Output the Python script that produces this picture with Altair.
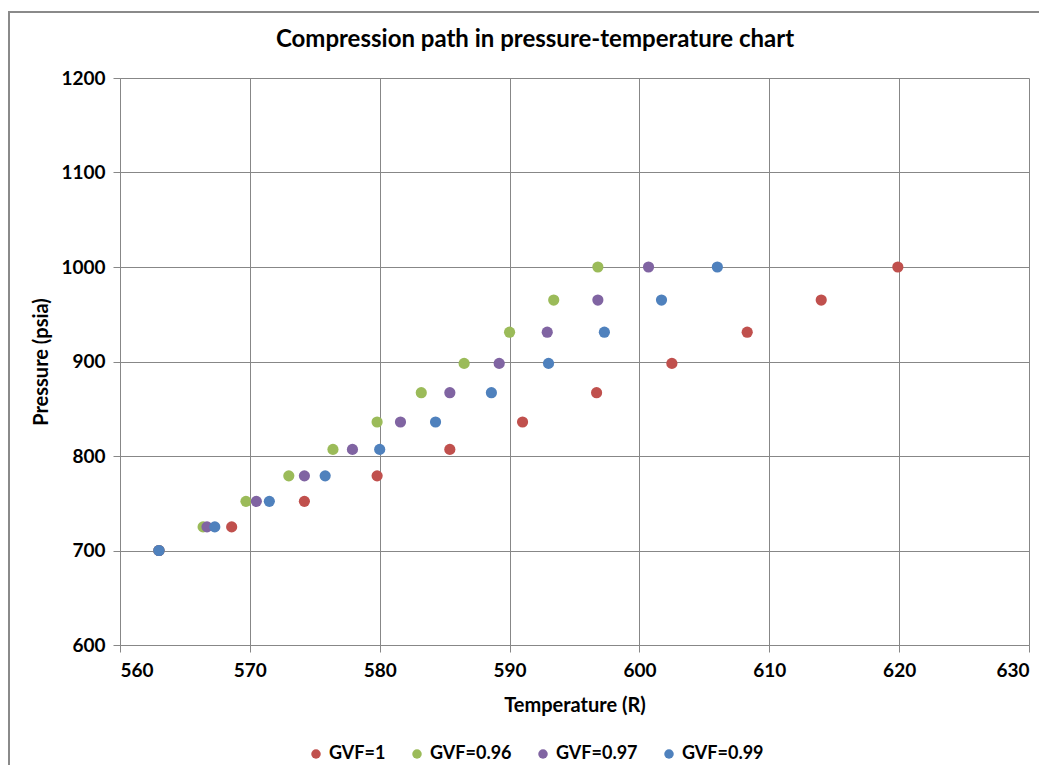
import altair as alt
import pandas as pd

series = ["GVF=1", "GVF=0.96", "GVF=0.97", "GVF=0.99"]
colors = ["#C0504D", "#9BBB59", "#8064A2", "#4F81BD"]
title_text = "Compression path in pressure-temperature chart"

pressure = [700, 725, 752, 779, 807, 836, 867, 898, 931, 965, 1000]
temp_gvf1 = [563.0, 568.6, 574.2, 579.8, 585.4, 591.0, 596.7, 602.5, 608.3, 614.0, 619.9]
temp_gvf096 = [563.0, 566.4, 569.7, 573.0, 576.4, 579.8, 583.2, 586.5, 590.0, 593.4, 596.8]
temp_gvf097 = [563.0, 566.7, 570.5, 574.2, 577.9, 581.6, 585.4, 589.2, 592.9, 596.8, 600.7]
temp_gvf099 = [563.0, 567.3, 571.5, 575.8, 580.0, 584.3, 588.6, 593.0, 597.3, 601.7, 606.0]

rows = []
for name, temps in zip(series, [temp_gvf1, temp_gvf096, temp_gvf097, temp_gvf099]):
    for t, p in zip(temps, pressure):
        rows.append({"series": name, "T": t, "P": p})
df = pd.DataFrame(rows)
df["order"] = df["series"].map({s: i for i, s in enumerate(series)})

FONT = "Lato"

points = alt.Chart(df).mark_circle(size=125, opacity=1).encode(
    x=alt.X("T:Q", title="Temperature (R)",
            scale=alt.Scale(domain=[560, 630], nice=False),
            axis=alt.Axis(values=list(range(560, 631, 10)), format="d",
                          labelPadding=9, titlePadding=15)),
    y=alt.Y("P:Q", title="Pressure (psia)",
            scale=alt.Scale(domain=[600, 1200], nice=False),
            axis=alt.Axis(values=list(range(600, 1201, 100)), format="d",
                          labelPadding=8, titlePadding=9)),
    color=alt.Color("series:N", scale=alt.Scale(domain=series, range=colors),
                    legend=alt.Legend(title=None, orient="none", direction="horizontal",
                                      legendX=187, legendY=100 + 567,
                                      symbolType="circle", symbolSize=90,
                                      labelFontSize=18, labelFont=FONT, labelFontWeight="bold",
                                      labelColor="#000000", columnPadding=22, symbolOffset=0)),
    order=alt.Order("order:Q"),
)

one = pd.DataFrame({"k": [0]})
frame_top = alt.Chart(one).mark_rule(stroke="#8A8A8A", strokeWidth=2).encode(
    x=alt.value(-111), x2=alt.value(919), y=alt.value(-66),
)
frame_left = alt.Chart(one).mark_rule(stroke="#8A8A8A", strokeWidth=2).encode(
    x=alt.value(-111), y=alt.value(-67), y2=alt.value(687),
)

title = alt.Chart(pd.DataFrame({"t": [title_text]})).mark_text(
    font=FONT, fontSize=24, fontWeight="bold", color="#000000",
    align="center", baseline="middle",
).encode(
    text="t:N", x=alt.value(415), y=alt.value(-38),
)

chart = alt.layer(frame_top, frame_left, points, title).properties(
    width=909, height=567,
    autosize=alt.AutoSizeParams(type="none"),
    padding={"left": 112, "top": 70, "right": 10, "bottom": 120},
    background="#FFFFFF",
).configure_axis(
    labelFont=FONT, labelFontSize=19, labelFontWeight="bold", labelColor="#000000",
    titleFont=FONT, titleFontSize=20, titleFontWeight="bold", titleColor="#000000",
    gridColor="#878787", gridWidth=1, gridOpacity=1,
    domainColor="#878787", tickColor="#878787", tickSize=7,
).configure_view(
    stroke=None,
)

chart.save("out.html", embed_options={"renderer": "svg", "actions": False})
